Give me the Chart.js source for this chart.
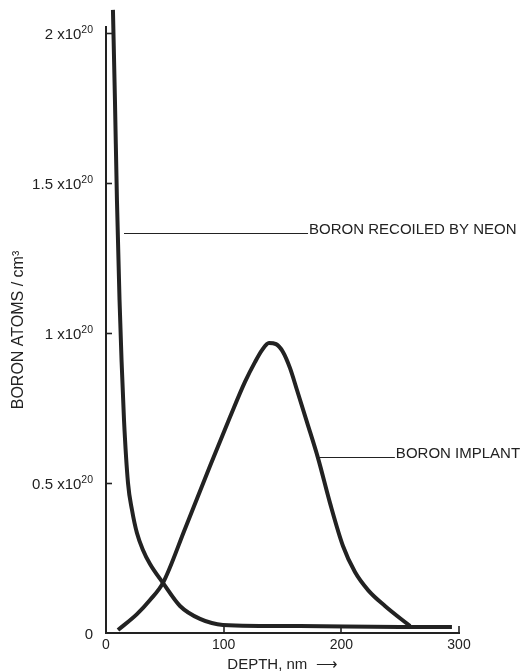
<!DOCTYPE html>
<html>
<head>
<meta charset="utf-8">
<script src="https://cdn.jsdelivr.net/npm/chart.js@4/dist/chart.umd.min.js"></script>
<style>
  html, body { margin: 0; padding: 0; background: #fff; }
  #wrap { width: 523px; height: 672px; }
</style>
</head>
<body>
<div id="wrap"><canvas id="depthChart" width="523" height="672"></canvas></div>
<script>
// 深さ (nm) と ボロン濃度 (x10^20 atoms/cm3)
const recoilDepth = [5.9, 7.6, 9.3, 11.5, 13.2, 15.3, 18.7, 22.1, 26.3, 31.4, 37.4, 48.4, 62.9, 79.9, 99.4, 164.9, 249.9, 294];
const recoilConc  = [2.077, 1.777, 1.443, 1.11, 0.91, 0.71, 0.5, 0.41, 0.333, 0.277, 0.23, 0.167, 0.09, 0.047, 0.027, 0.023, 0.02, 0.02];

const implantDepth = [10.2, 26.3, 37.4, 48.4, 67.1, 88.4, 105.4, 118.1, 126.6, 132.6, 138.5, 144.5, 150.4, 156.4, 162.3, 170.8, 180.2, 190.4, 201.4, 211.6, 222.7, 237.1, 258.4];
const implantConc  = [0.01, 0.063, 0.11, 0.167, 0.347, 0.557, 0.72, 0.837, 0.903, 0.943, 0.967, 0.963, 0.937, 0.883, 0.81, 0.703, 0.583, 0.433, 0.29, 0.203, 0.143, 0.09, 0.023];

// 目盛り: 仮数部と指数部 (上付き)
const yTickValues = [0, 0.5, 1, 1.5, 2];
const yTickBase = ['0', '0.5 x10', '1 x10', '1.5 x10', '2 x10'];
const yTickExp  = ['', '20', '20', '20', '20'];
const xTickValues = [0, 100, 200, 300];
const xTickLabels = ['0', '100', '200', '300'];

const labelRecoil = 'BORON RECOILED BY NEON';
const labelImplant = 'BORON IMPLANT';

const ink = '#222';
const fontFamily = '"Liberation Sans", Arial, Helvetica, sans-serif';

const toPoints = (xs, ys) => xs.map((x, i) => ({ x: x, y: ys[i] }));

// 引き出し線と注釈 (データ座標)
const leaders = [
  { text: labelRecoil, from: 15.3, to: 171.7, value: 1.333 },
  { text: labelImplant, from: 181, to: 245.5, value: 0.587 }
];

// 内向きの目盛り・上付きのY目盛りラベル・注釈を描く
const extrasPlugin = {
  id: 'extras',
  afterDatasetsDraw(chart) {
    const ctx = chart.ctx;
    const xs = chart.scales.x;
    const ys = chart.scales.y;
    const area = chart.chartArea;
    ctx.save();
    ctx.strokeStyle = ink;
    ctx.fillStyle = ink;
    ctx.lineWidth = 1.6;

    yTickValues.forEach((v, i) => {
      const py = Math.round(ys.getPixelForValue(v)) + 0.5;
      if (v !== 0) {
        ctx.beginPath();
        ctx.moveTo(area.left, py);
        ctx.lineTo(area.left + 6, py);
        ctx.stroke();
      }
      // ラベル (右端をそろえる)
      const right = area.left - 13;
      ctx.textBaseline = 'alphabetic';
      ctx.textAlign = 'right';
      ctx.font = '10.5px ' + fontFamily;
      const expW = yTickExp[i] ? ctx.measureText(yTickExp[i]).width : 0;
      if (yTickExp[i]) { ctx.fillText(yTickExp[i], right, py - 1); }
      ctx.font = '15px ' + fontFamily;
      ctx.fillText(yTickBase[i], right - expW, py + 5);
    });

    xTickValues.forEach(v => {
      if (v === 0) return;
      const px = Math.round(xs.getPixelForValue(v));
      ctx.beginPath();
      ctx.moveTo(px, area.bottom);
      ctx.lineTo(px, area.bottom - 7);
      ctx.stroke();
    });

    ctx.lineWidth = 1;
    ctx.font = '15px ' + fontFamily;
    ctx.textBaseline = 'alphabetic';
    ctx.textAlign = 'left';
    leaders.forEach(l => {
      const py = Math.round(ys.getPixelForValue(l.value)) + 0.5;
      const x1 = xs.getPixelForValue(l.from);
      const x2 = xs.getPixelForValue(l.to);
      ctx.beginPath();
      ctx.moveTo(x1, py);
      ctx.lineTo(x2, py);
      ctx.stroke();
      ctx.fillText(l.text, x2 + 1, py + 0.5);
    });
    ctx.restore();
  }
};

const chartCanvas = document.getElementById('depthChart');

new Chart(chartCanvas, {
  type: 'line',
  data: {
    datasets: [
      {
        label: labelRecoil,
        data: toPoints(recoilDepth, recoilConc),
        borderColor: ink,
        borderWidth: 4,
        pointRadius: 0,
        cubicInterpolationMode: 'monotone',
        clip: false,
        fill: false
      },
      {
        label: labelImplant,
        data: toPoints(implantDepth, implantConc),
        borderColor: ink,
        borderWidth: 4,
        pointRadius: 0,
        cubicInterpolationMode: 'monotone',
        clip: false,
        fill: false
      }
    ]
  },
  options: {
    responsive: false,
    animation: false,
    layout: { padding: { top: 27, right: 64, left: 0, bottom: 0 } },
    plugins: {
      legend: { display: false },
      tooltip: { enabled: false }
    },
    scales: {
      x: {
        type: 'linear',
        min: 0,
        max: 300,
        afterFit(scale) { scale.height = 39; },
        afterBuildTicks(scale) { scale.ticks = xTickValues.map(v => ({ value: v })); },
        grid: { display: false, drawTicks: false },
        border: { display: true, color: ink, width: 2 },
        ticks: {
          color: ink,
          padding: 4,
          maxRotation: 0,
          font: { family: fontFamily, size: 14 },
          callback: (v) => xTickLabels[xTickValues.indexOf(v)]
        },
        title: {
          display: true,
          text: 'DEPTH, nm  ⟶',
          color: ink,
          font: { family: fontFamily, size: 15, lineHeight: 1 },
          padding: { top: 0, bottom: 0 }
        }
      },
      y: {
        type: 'linear',
        min: 0,
        max: 2.02,
        afterFit(scale) { scale.width = 106; },
        afterBuildTicks(scale) { scale.ticks = yTickValues.map(v => ({ value: v })); },
        grid: { display: false, drawTicks: false },
        border: { display: true, color: ink, width: 2 },
        ticks: { display: false },
        title: {
          display: true,
          text: 'BORON ATOMS / cm³',
          color: ink,
          font: { family: fontFamily, size: 16 },
          padding: { top: 9, bottom: 0 }
        }
      }
    }
  },
  plugins: [extrasPlugin]
});
</script>
</body>
</html>
